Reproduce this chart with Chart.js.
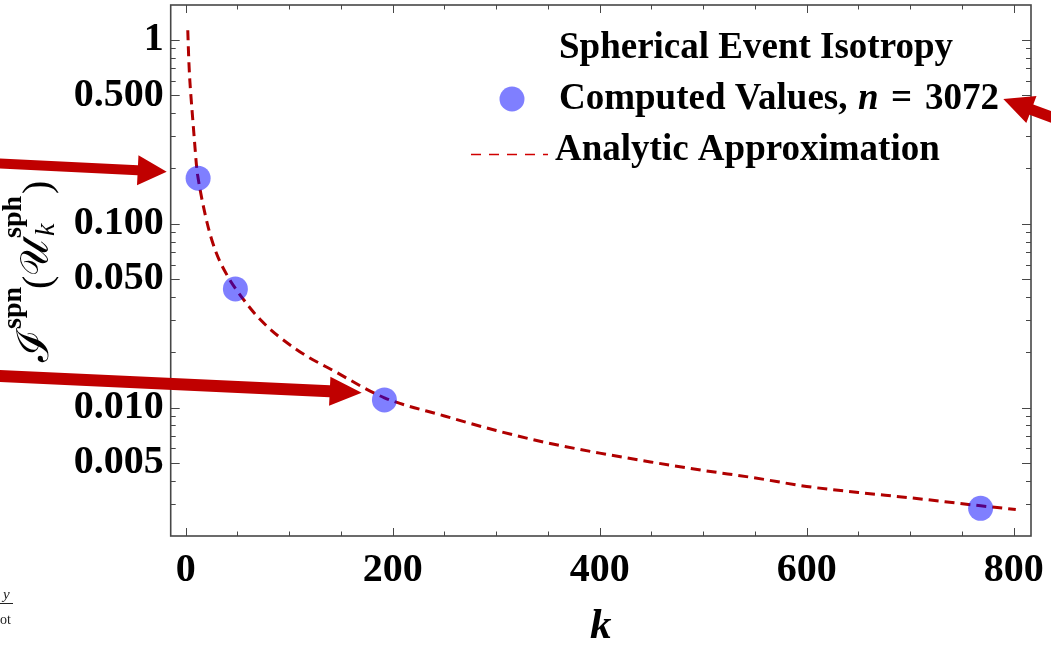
<!DOCTYPE html>
<html>
<head>
<meta charset="utf-8">
<script src="https://cdn.jsdelivr.net/npm/chart.js@4.4.1/dist/chart.umd.min.js"></script>
<style>
  html, body { margin: 0; padding: 0; background: #ffffff; }
  canvas { display: block; }
</style>
</head>
<body>
<canvas id="chart" width="1051" height="648"></canvas>
<script>
// Spherical event isotropy computed at a few sample sizes k (n = 3072)
const kComputed = [12, 48, 192, 768];
const isoComputed = [0.177, 0.0442, 0.0110, 0.00283];

// Analytic approximation, sampled along the dashed curve
const kApprox = [2, 2.9, 4.0, 5.0, 8.1, 10.7, 12, 20.9, 29.3, 42.1, 48, 72, 107, 146, 192, 250, 300, 348, 400, 449, 500, 549, 600, 650, 702, 768, 802];
const isoApprox = [1.13, 0.80, 0.60, 0.50, 0.30, 0.20, 0.177, 0.100, 0.070, 0.050, 0.0445, 0.0301, 0.0207, 0.0155, 0.0113, 0.0090, 0.0075, 0.00645, 0.00565, 0.00506, 0.00455, 0.00415, 0.00372, 0.00345, 0.00322, 0.00292, 0.00279];

// Axis ticks and their labels
const xTicks = [0, 200, 400, 600, 800];
const xTickLabels = ['0', '200', '400', '600', '800'];
const yTicks = [1, 0.5, 0.1, 0.05, 0.01, 0.005];
const yTickLabels = ['1', '0.500', '0.100', '0.050', '0.010', '0.005'];

const SERIF = '"Liberation Serif", "Times New Roman", serif';
const DARK_RED = '#b00000';
const ARROW_RED = '#c00000';
const POINT_BLUE = 'rgba(0, 0, 255, 0.5)';
const FRAME = '#474747';

const computedData = kComputed.map((k, i) => ({ x: k, y: isoComputed[i] }));
const approxData = kApprox.map((k, i) => ({ x: k, y: isoApprox[i] }));

// Frame around the plot with inward-pointing major and minor ticks on all four sides
const framePlugin = {
  id: 'frame',
  afterDatasetsDraw(chart) {
    const { ctx, chartArea: a, scales: { x, y } } = chart;
    ctx.save();
    ctx.strokeStyle = FRAME;
    ctx.lineWidth = 1;
    const xMinor = [];
    for (let v = 0; v <= 800; v += 50) if (!xTicks.includes(v)) xMinor.push(v);
    const yMinor = [];
    [0.001, 0.01, 0.1].forEach(d => {
      for (let m = 2; m <= 9; m++) {
        const v = +(m * d).toPrecision(3);
        if (v > y.min * 1.01 && v < y.max && !yTicks.includes(v)) yMinor.push(v);
      }
    });
    const vTick = (px, len) => {
      ctx.beginPath();
      ctx.moveTo(px, a.bottom); ctx.lineTo(px, a.bottom - len);
      ctx.moveTo(px, a.top); ctx.lineTo(px, a.top + len);
      ctx.stroke();
    };
    const hTick = (py, len) => {
      ctx.beginPath();
      ctx.moveTo(a.left, py); ctx.lineTo(a.left + len, py);
      ctx.moveTo(a.right, py); ctx.lineTo(a.right - len, py);
      ctx.stroke();
    };
    xTicks.forEach(v => vTick(Math.round(x.getPixelForValue(v)) + 0.5, 8));
    xMinor.forEach(v => vTick(Math.round(x.getPixelForValue(v)) + 0.5, 4.5));
    yTicks.forEach(v => hTick(Math.round(y.getPixelForValue(v)) + 0.5, 9));
    yMinor.forEach(v => hTick(Math.round(y.getPixelForValue(v)) + 0.5, 5));
    ctx.lineWidth = 1.6;
    ctx.strokeRect(a.left, a.top, a.right - a.left, a.bottom - a.top);
    ctx.restore();
  }
};

function drawArrow(ctx, x0, y0, x1, y1, shaftW, headL, headW) {
  const dx = x1 - x0, dy = y1 - y0;
  const len = Math.hypot(dx, dy);
  const ux = dx / len, uy = dy / len;
  const nx = -uy, ny = ux;
  const bx = x1 - ux * headL, by = y1 - uy * headL;
  ctx.beginPath();
  ctx.moveTo(x0 + nx * shaftW / 2, y0 + ny * shaftW / 2);
  ctx.lineTo(bx + nx * shaftW / 2, by + ny * shaftW / 2);
  ctx.lineTo(bx + nx * headW / 2, by + ny * headW / 2);
  ctx.lineTo(x1, y1);
  ctx.lineTo(bx - nx * headW / 2, by - ny * headW / 2);
  ctx.lineTo(bx - nx * shaftW / 2, by - ny * shaftW / 2);
  ctx.lineTo(x0 - nx * shaftW / 2, y0 - ny * shaftW / 2);
  ctx.closePath();
  ctx.fill();
}

// Legend, rotated y title, callout arrows and the clipped caption in the corner
const annotationPlugin = {
  id: 'annotations',
  beforeDraw(chart) {
    const { ctx, width, height } = chart;
    ctx.save();
    ctx.fillStyle = '#ffffff';
    ctx.fillRect(0, 0, width, height);
    ctx.restore();
  },
  afterDraw(chart) {
    const { ctx } = chart;
    ctx.save();
    ctx.fillStyle = '#000';
    ctx.textBaseline = 'alphabetic';

    // legend
    const legendFont = 'bold 37px ' + SERIF;
    ctx.font = legendFont;
    ctx.textAlign = 'center';
    ctx.fillText('Spherical Event Isotropy', 756, 58);
    ctx.textAlign = 'left';

    ctx.fillStyle = POINT_BLUE;
    ctx.beginPath();
    ctx.arc(512, 99, 12.5, 0, Math.PI * 2);
    ctx.fill();

    ctx.fillStyle = '#000';
    ctx.font = legendFont;
    ctx.fillText('Computed Values,', 559, 109);
    ctx.font = 'italic bold 37px ' + SERIF;
    ctx.fillText('n', 858, 109);
    ctx.font = legendFont;
    ctx.fillText('=', 891, 109);
    ctx.fillText('3072', 925, 109);

    ctx.strokeStyle = '#d00000';
    ctx.lineWidth = 1.4;
    ctx.setLineDash([10, 8]);
    ctx.beginPath();
    ctx.moveTo(471, 154.5); ctx.lineTo(548, 154.5);
    ctx.stroke();
    ctx.setLineDash([]);
    ctx.font = legendFont;
    ctx.fillText('Analytic Approximation', 555, 160);

    // y axis title, read bottom to top
    ctx.save();
    ctx.translate(48, 362);
    ctx.rotate(-Math.PI / 2);
    const piece = (txt, font, u, v) => { ctx.font = font; ctx.fillText(txt, u, v); };
    piece('\u2110', '44px "DejaVu Serif"', 0, 0);
    piece('spn', 'bold 28px ' + SERIF, 33, -27);
    piece('(', '40px ' + SERIF, 73, 2);
    piece('\u{1D4B0}', '40px "DejaVu Serif", "DejaVu Sans"', 86, 0);
    piece('sph', 'bold 28px ' + SERIF, 124, -27);
    piece('k', 'italic 28px ' + SERIF, 126, 6);
    piece(')', '40px ' + SERIF, 168, 2);
    ctx.restore();

    // callout arrows
    ctx.fillStyle = ARROW_RED;
    drawArrow(ctx, -5, 163.3, 166.7, 171.7, 10, 29, 30);
    drawArrow(ctx, -5, 375.8, 361.7, 392.7, 12, 32, 29);
    drawArrow(ctx, 1062, 121, 1003.3, 99, 11, 30, 29);

    // clipped caption fragment
    ctx.fillStyle = '#222';
    ctx.font = 'italic 15px ' + SERIF;
    ctx.fillText('y', 3, 599);
    ctx.fillRect(0, 603, 13, 1);
    ctx.font = '14px ' + SERIF;
    ctx.fillText('ot', 0, 624);
    ctx.restore();
  }
};

new Chart(document.getElementById('chart'), {
  data: {
    datasets: [
      {
        type: 'scatter',
        label: 'Computed Values, n = 3072',
        data: computedData,
        pointRadius: 12.5,
        pointHoverRadius: 12.5,
        pointBackgroundColor: POINT_BLUE,
        pointBorderWidth: 0,
        order: 0
      },
      {
        type: 'line',
        label: 'Analytic Approximation',
        data: approxData,
        borderColor: DARK_RED,
        borderWidth: 3,
        borderDash: [10, 6],
        pointRadius: 0,
        fill: false,
        cubicInterpolationMode: 'monotone',
        order: 1
      }
    ]
  },
  options: {
    responsive: false,
    animation: false,
    devicePixelRatio: 1,
    layout: { autoPadding: false, padding: { left: 0, top: 5, right: 20, bottom: 0 } },
    plugins: {
      legend: { display: false },
      tooltip: { enabled: false }
    },
    scales: {
      x: {
        type: 'linear',
        position: 'bottom',
        min: -14.5,
        max: 816.7,
        afterBuildTicks: s => { s.ticks = xTicks.map(v => ({ value: v })); },
        afterFit: s => { s.height = 112; s.paddingLeft = 0; s.paddingRight = 0; },
        grid: { display: false, drawTicks: false },
        border: { display: false },
        ticks: {
          padding: 11,
          color: '#000',
          maxRotation: 0,
          autoSkip: false,
          font: { family: SERIF, size: 40, weight: 'bold' },
          callback: v => xTickLabels[xTicks.indexOf(v)]
        },
        title: {
          display: true,
          text: 'k',
          color: '#000',
          padding: { top: 0, bottom: -5 },
          font: { family: SERIF, size: 43, weight: 'bold', style: 'italic' }
        }
      },
      y: {
        type: 'logarithmic',
        position: 'left',
        min: 0.002,
        max: 1.55,
        afterBuildTicks: s => { s.ticks = yTicks.map(v => ({ value: v })); },
        afterFit: s => { s.width = 170.7; s.paddingTop = 0; s.paddingBottom = 0; },
        grid: { display: false, drawTicks: false },
        border: { display: false },
        ticks: {
          padding: 7,
          color: '#000',
          autoSkip: false,
          font: { family: SERIF, size: 40, weight: 'bold' },
          callback: v => yTickLabels[yTicks.indexOf(v)]
        }
      }
    }
  },
  plugins: [framePlugin, annotationPlugin]
});
</script>
</body>
</html>
